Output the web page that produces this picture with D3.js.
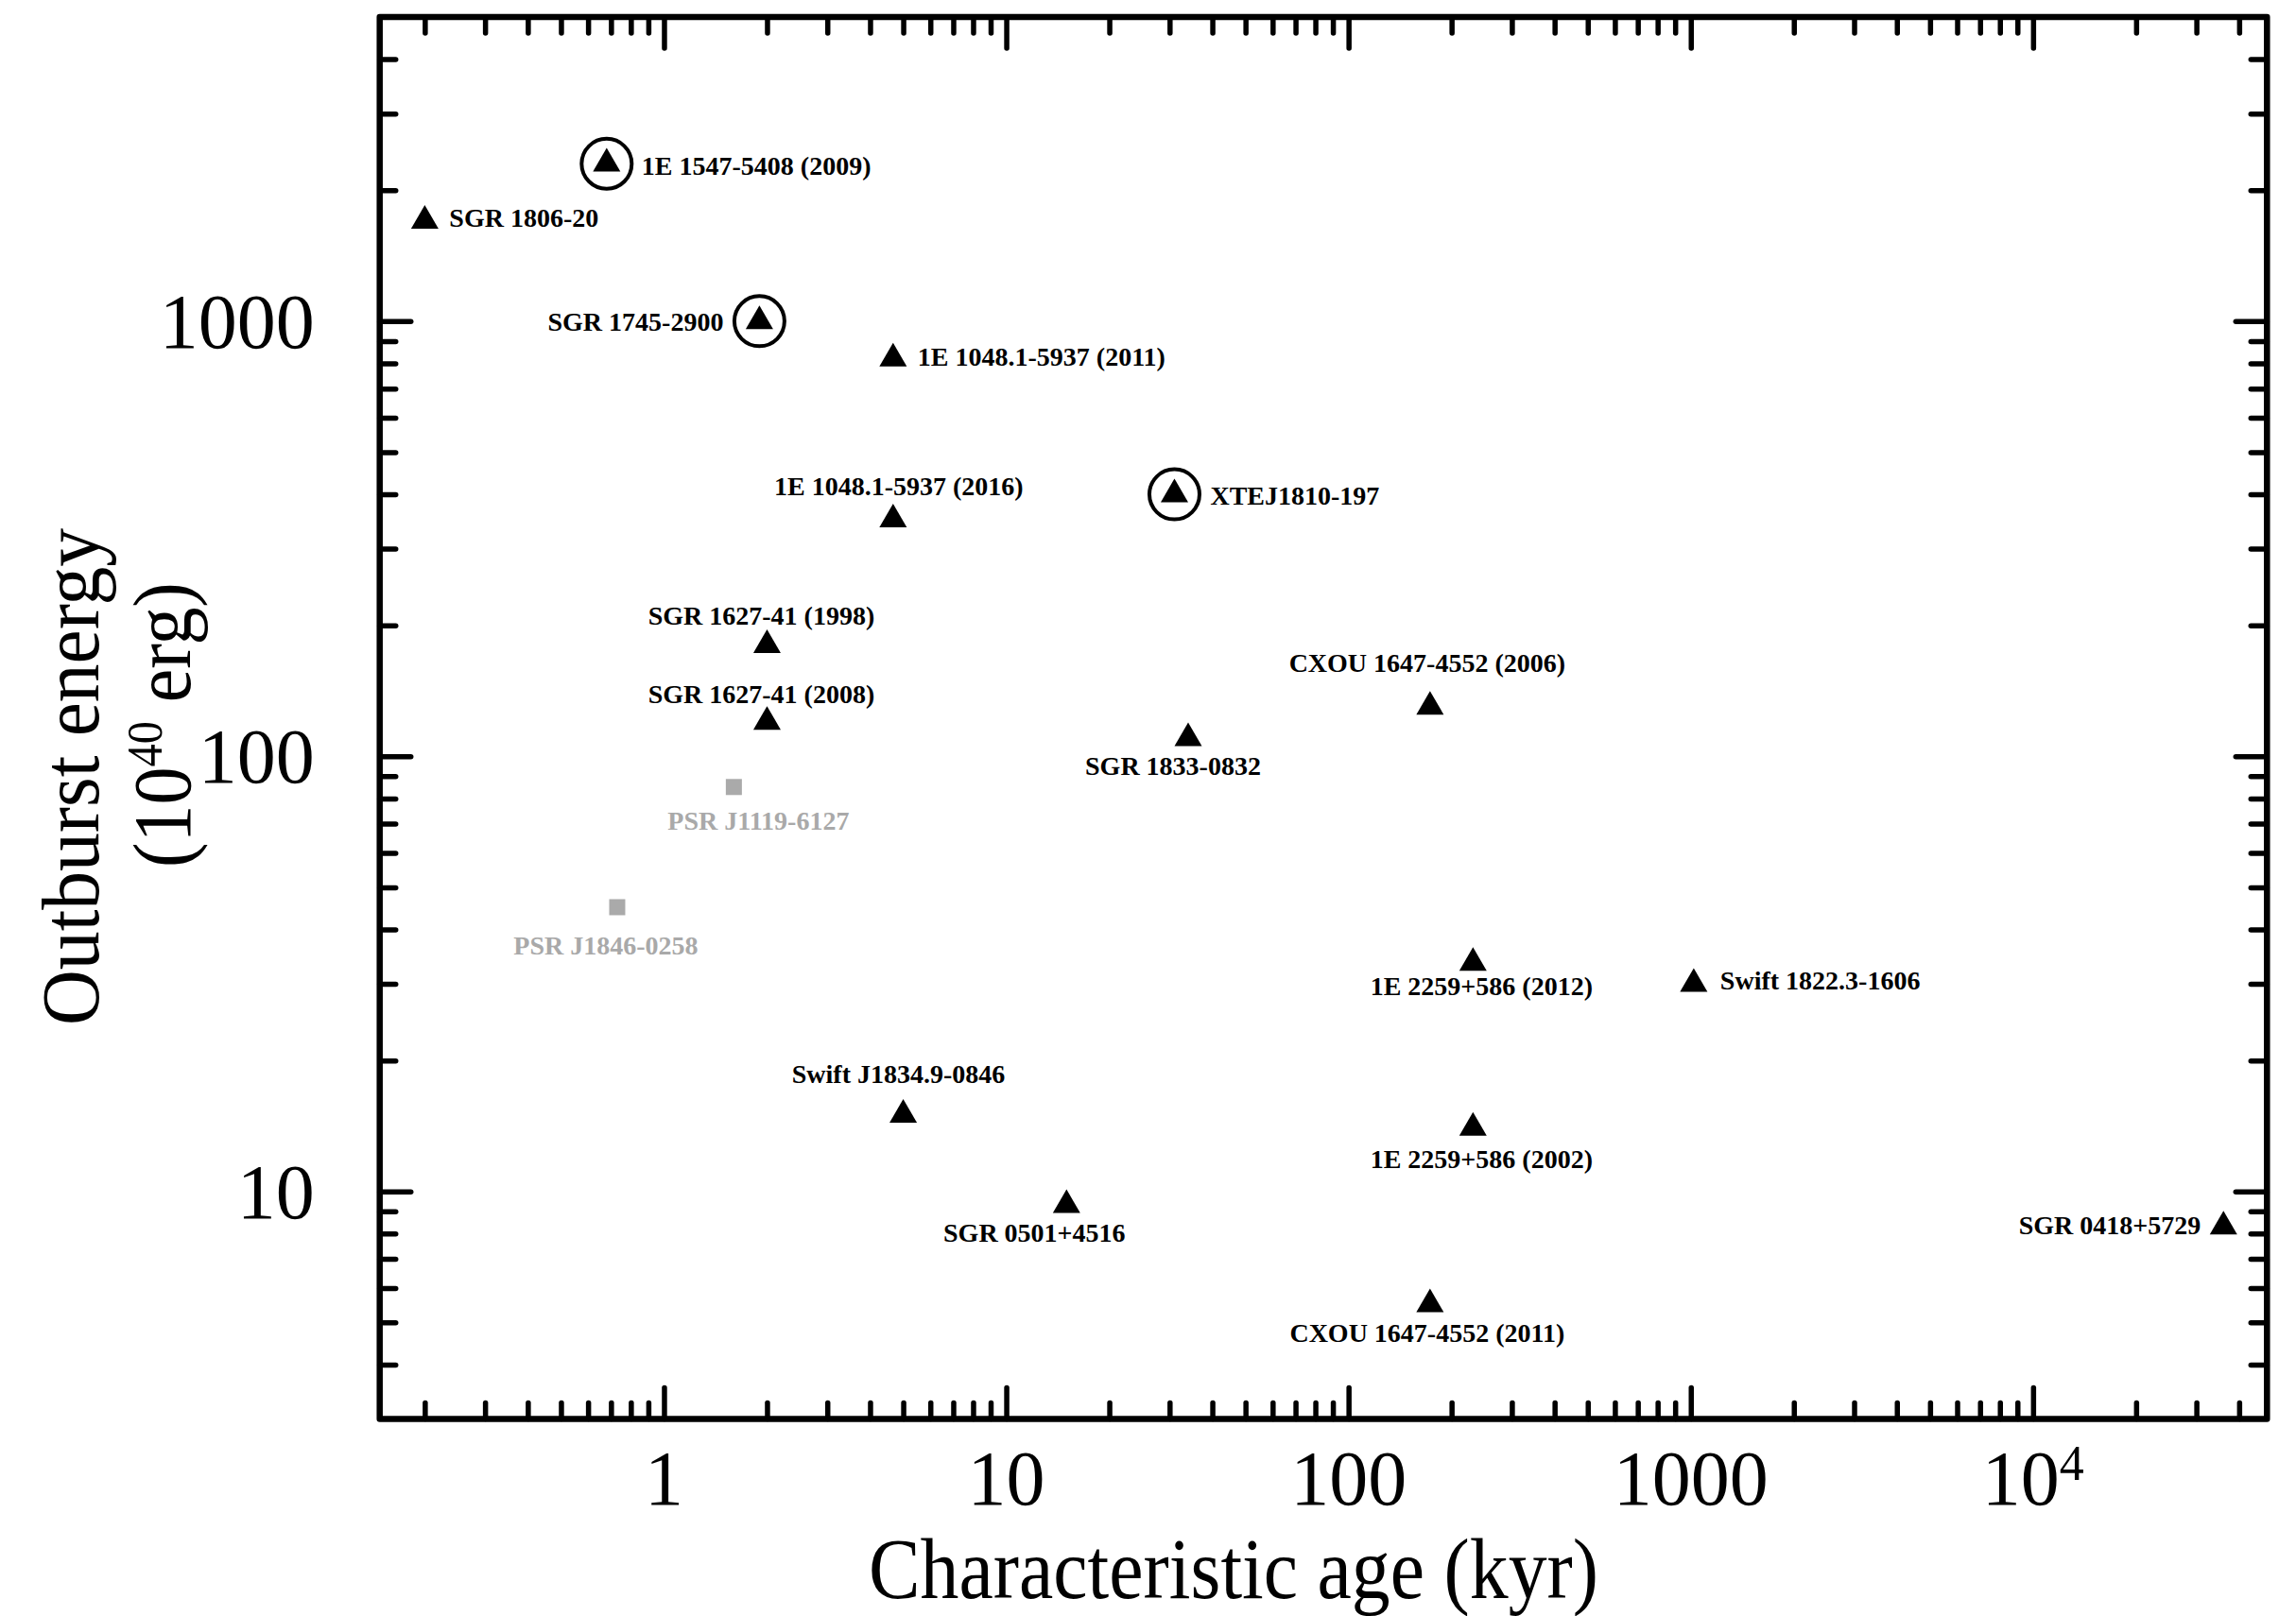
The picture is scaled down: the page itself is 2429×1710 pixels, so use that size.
<!DOCTYPE html>
<html>
<head>
<meta charset="utf-8">
<script src="https://cdn.jsdelivr.net/npm/d3@7"></script>
<style>
  html, body { margin: 0; padding: 0; background: #fff; }
  svg { display: block; }
  text { font-family: "Liberation Serif", "Times New Roman", serif; }
</style>
</head>
<body>
<script>
// ---------------- DATA ----------------
const names = [
  "SGR 1806-20",
  "1E 1547-5408 (2009)",
  "SGR 1745-2900",
  "1E 1048.1-5937 (2011)",
  "1E 1048.1-5937 (2016)",
  "XTEJ1810-197",
  "SGR 1627-41 (1998)",
  "SGR 1627-41 (2008)",
  "CXOU 1647-4552 (2006)",
  "SGR 1833-0832",
  "PSR J1119-6127",
  "PSR J1846-0258",
  "1E 2259+586 (2012)",
  "Swift 1822.3-1606",
  "Swift J1834.9-0846",
  "1E 2259+586 (2002)",
  "SGR 0501+4516",
  "SGR 0418+5729",
  "CXOU 1647-4552 (2011)"
];
// characteristic age (kyr)
const ages = [0.20, 0.68, 1.9, 4.67, 4.67, 31, 2.0, 2.0, 173, 34, 1.6, 0.73, 231, 1020, 5.0, 231, 15, 36000, 173];
// outburst energy (1e40 erg)
const energies = [1700, 2300, 1000, 820, 350, 400, 180, 120, 130, 110, 85, 45, 33.5, 30, 15, 14, 9.3, 8.3, 5.5];
// source kind: "mag" = magnetar (triangle), "psr" = high-B pulsar (grey square)
const kinds = ["mag","mag","mag","mag","mag","mag","mag","mag","mag","mag","psr","psr","mag","mag","mag","mag","mag","mag","mag"];
// transient magnetars marked with a circle
const circled = [false,true,true,false,false,true,false,false,false,false,false,false,false,false,false,false,false,false,false];

const xTickValues = [1, 10, 100, 1000, 10000];
const xTickLabels = ["1", "10", "100", "1000", "10^4"];
const yTickValues = [10, 100, 1000];
const yTickLabels = ["10", "100", "1000"];
const xTitle = "Characteristic age (kyr)";
const yTitle1 = "Outburst energy";

// label placement (layout only): [anchor, dx, dy to baseline]
const labelPlacement = [
  ["start", 26, 6],
  ["start", 37, 12],
  ["end", -38, 10],
  ["start", 26, 7],
  ["middle", 6, -26],
  ["start", 38, 11],
  ["middle", -6, -22],
  ["middle", -6, -20],
  ["middle", -3, -37],
  ["middle", -16, 39],
  ["middle", 26, 45],
  ["middle", -12, 50],
  ["middle", 9, 34],
  ["start", 28, 6],
  ["middle", -5, -34],
  ["middle", 9, 43],
  ["middle", -34, 39],
  ["end", -24, 8],
  ["middle", -3, 40]
];

// ---------------- LAYOUT ----------------
const W = 2429, H = 1710;
const L = 401.7, R = 2398.3, T = 18, B = 1501.5;

const svg = d3.select("body").append("svg").attr("width", W).attr("height", H);

const x = d3.scaleLog().domain([0.1477, 48240]).range([L, R]);
const y = d3.scaleLog().domain([3, 5000]).range([B, T]);

function minorTicks(lo, hi) {
  const out = [];
  for (let e = Math.floor(Math.log10(lo)); e <= Math.ceil(Math.log10(hi)); e++) {
    for (let m = 2; m <= 9; m++) {
      const v = m * Math.pow(10, e);
      if (v > lo * 1.0001 && v < hi * 0.9999) out.push(v);
    }
  }
  return out;
}
const xMinor = minorTicks(0.1477, 48240);
const yMinor = minorTicks(3, 5000);

const MAJ = 33, MIN = 17;
function styleAxis(g) {
  g.select(".domain").remove();
  g.selectAll(".tick line").attr("stroke", "#000").attr("stroke-width", 5.5).attr("stroke-linecap", "round");
  g.selectAll(".tick text").remove();
}
// bottom
svg.append("g").attr("transform", `translate(0,${B})`).call(d3.axisBottom(x).tickValues(xTickValues).tickSize(-MAJ).tickFormat("")).call(styleAxis);
svg.append("g").attr("transform", `translate(0,${B})`).call(d3.axisBottom(x).tickValues(xMinor).tickSize(-MIN).tickFormat("")).call(styleAxis);
// top
svg.append("g").attr("transform", `translate(0,${T})`).call(d3.axisTop(x).tickValues(xTickValues).tickSize(-MAJ).tickFormat("")).call(styleAxis);
svg.append("g").attr("transform", `translate(0,${T})`).call(d3.axisTop(x).tickValues(xMinor).tickSize(-MIN).tickFormat("")).call(styleAxis);
// left
svg.append("g").attr("transform", `translate(${L},0)`).call(d3.axisLeft(y).tickValues(yTickValues).tickSize(-MAJ).tickFormat("")).call(styleAxis);
svg.append("g").attr("transform", `translate(${L},0)`).call(d3.axisLeft(y).tickValues(yMinor).tickSize(-MIN).tickFormat("")).call(styleAxis);
// right
svg.append("g").attr("transform", `translate(${R},0)`).call(d3.axisRight(y).tickValues(yTickValues).tickSize(-MAJ).tickFormat("")).call(styleAxis);
svg.append("g").attr("transform", `translate(${R},0)`).call(d3.axisRight(y).tickValues(yMinor).tickSize(-MIN).tickFormat("")).call(styleAxis);

// frame
svg.append("rect").attr("x", L).attr("y", T).attr("width", R - L).attr("height", B - T)
  .attr("fill", "none").attr("stroke", "#000").attr("stroke-width", 6.5).attr("stroke-linejoin", "round");

// tick labels
const TICKFS = 82;
xTickValues.forEach((v, i) => {
  const lab = xTickLabels[i];
  const t = svg.append("text").attr("x", x(v)).attr("y", B + 90)
    .attr("text-anchor", "middle").attr("font-size", TICKFS).attr("fill", "#000");
  if (lab.indexOf("^") >= 0) {
    const [base, exp] = lab.split("^");
    t.append("tspan").text(base);
    t.append("tspan").attr("font-size", 52).attr("dy", -26).text(exp);
  } else {
    t.text(lab);
  }
});
yTickValues.forEach((v, i) => {
  svg.append("text").attr("x", L - 69).attr("y", y(v) + 28)
    .attr("text-anchor", "end").attr("font-size", TICKFS).attr("fill", "#000").text(yTickLabels[i]);
});

// axis titles
svg.append("text").attr("x", 1305).attr("y", 1691).attr("text-anchor", "middle")
  .attr("font-size", 92).attr("textLength", 772).attr("lengthAdjust", "spacingAndGlyphs").text(xTitle);

svg.append("text").attr("transform", "translate(104,822) rotate(-90)").attr("text-anchor", "middle")
  .attr("font-size", 86).attr("textLength", 526).attr("lengthAdjust", "spacingAndGlyphs").text(yTitle1);

const yt2 = svg.append("text").attr("transform", "translate(201,767) rotate(-90)").attr("text-anchor", "middle")
  .attr("font-size", 86).attr("textLength", 302).attr("lengthAdjust", "spacingAndGlyphs");
yt2.append("tspan").text("(10");
yt2.append("tspan").attr("font-size", 52).attr("dy", -30).text("40");
yt2.append("tspan").attr("dy", 30).text(" erg)");

// ---------------- MARKS ----------------
const pts = names.map((n, i) => ({ name: n, age: ages[i], e: energies[i], kind: kinds[i], circ: circled[i], lp: labelPlacement[i] }));

const s = 29, h = 25;
const triPath = `M0,${-2 * h / 3}L${s / 2},${h / 3}L${-s / 2},${h / 3}Z`;

const gPts = svg.append("g");
pts.forEach(d => {
  const px = x(d.age), py = y(d.e);
  if (d.kind === "mag") {
    gPts.append("path").attr("d", triPath).attr("transform", `translate(${px},${py})`).attr("fill", "#000");
  } else {
    gPts.append("rect").attr("x", px - 8.5).attr("y", py - 8.5).attr("width", 17).attr("height", 17).attr("fill", "#aaaaaa");
  }
  if (d.circ) {
    gPts.append("circle").attr("cx", px).attr("cy", py).attr("r", 26.5)
      .attr("fill", "none").attr("stroke", "#000").attr("stroke-width", 4);
  }
  gPts.append("text").attr("x", px + d.lp[1]).attr("y", py + d.lp[2])
    .attr("text-anchor", d.lp[0]).attr("font-size", 28).attr("font-weight", "bold")
    .attr("fill", d.kind === "mag" ? "#000" : "#a9a9a9").text(d.name);
});
</script>
</body>
</html>
